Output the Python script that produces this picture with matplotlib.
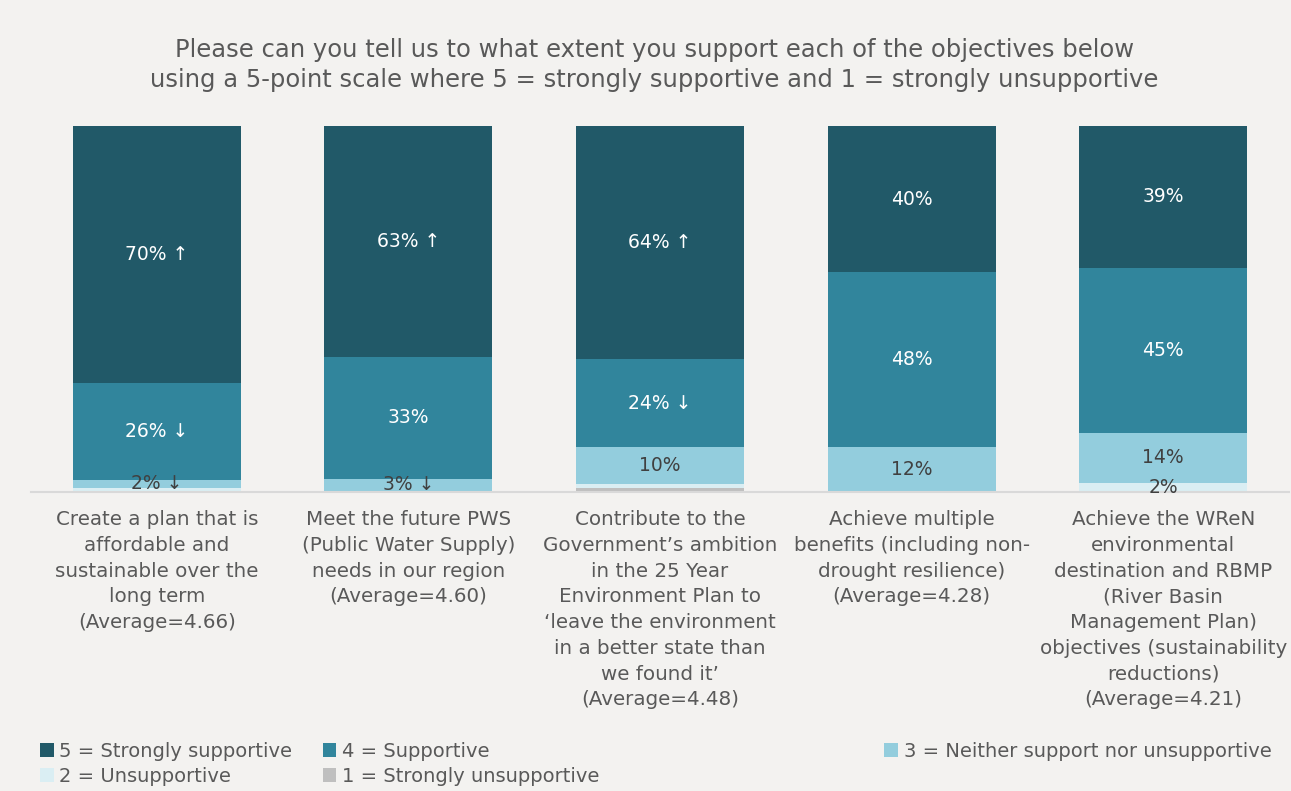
import matplotlib
matplotlib.use("Agg")
import matplotlib.pyplot as plt
from matplotlib.patches import Patch

plt.rcParams['font.family'] = ['DejaVu Sans']

categories = [
    "Create a plan that is\naffordable and\nsustainable over the\nlong term\n(Average=4.66)",
    "Meet the future PWS\n(Public Water Supply)\nneeds in our region\n(Average=4.60)",
    "Contribute to the\nGovernment\u2019s ambition\nin the 25 Year\nEnvironment Plan to\n\u2018leave the environment\nin a better state than\nwe found it\u2019\n(Average=4.48)",
    "Achieve multiple\nbenefits (including non-\ndrought resilience)\n(Average=4.28)",
    "Achieve the WReN\nenvironmental\ndestination and RBMP\n(River Basin\nManagement Plan)\nobjectives (sustainability\nreductions)\n(Average=4.21)",
]

# segment sizes (share of respondents, %)
strongly_unsupportive = [0.0, 0.0, 1.1, 0.0, 0.0]
unsupportive = [1.1, 0.3, 1.1, 0.0, 2.5]
neither = [2.2, 3.3, 10.1, 12.3, 13.7]
supportive = [26.5, 33.3, 24.0, 47.8, 45.1]
strongly_supportive = [70.2, 63.1, 63.7, 39.9, 38.8]

# printed labels
lab_5 = ["70% \u2191", "63% \u2191", "64% \u2191", "40%", "39%"]
lab_4 = ["26% \u2193", "33%", "24% \u2193", "48%", "45%"]
lab_3 = ["2% \u2193", "3% \u2193", "10%", "12%", "14%"]
lab_2 = ["", "", "", "", "2%"]

legend_names = ["5 = Strongly supportive", "4 = Supportive",
                "3 = Neither support nor unsupportive", "2 = Unsupportive",
                "1 = Strongly unsupportive"]

bg = "#f3f2f0"
c5, c4, c3, c2, c1 = "#215968", "#31859c", "#93cddd", "#daeef3", "#bfbfbf"
txt = "#595959"

fig = plt.figure(figsize=(12.91, 7.91), dpi=100, facecolor=bg)
ax = fig.add_axes([0.024, 0.378, 0.9745, 0.4627])
ax.set_facecolor(bg)

x = list(range(len(categories)))
w = 0.668
bottom = [0.0] * len(x)
segments = [
    (strongly_unsupportive, c1, None, None),
    (unsupportive, c2, lab_2, "#404040"),
    (neither, c3, lab_3, "#404040"),
    (supportive, c4, lab_4, "white"),
    (strongly_supportive, c5, lab_5, "white"),
]
for vals, col, labs, tc in segments:
    bars = ax.bar(x, vals, w, bottom=bottom, color=col, edgecolor="none")
    if labs is not None:
        for i, b in enumerate(bars):
            if labs[i]:
                ax.text(b.get_x() + b.get_width() / 2, bottom[i] + vals[i] / 2,
                        labs[i], ha="center", va="center", color=tc, fontsize=13.5)
    bottom = [bottom[i] + vals[i] for i in range(len(x))]

ax.set_xlim(-0.5, 4.5)
ax.set_ylim(0, 100)
ax.set_yticks([])
ax.set_xticks(x)
ax.set_xticklabels(categories, fontsize=14.3, color=txt, linespacing=1.45, va="top")
ax.tick_params(axis="x", length=0, pad=13)
for s in ["top", "right", "left"]:
    ax.spines[s].set_visible(False)
ax.spines["bottom"].set_color("#d9d9d9")
ax.spines["bottom"].set_linewidth(1.5)

fig.text(0.507, 0.918, "Please can you tell us to what extent you support each of the objectives below\n"
         "using a 5-point scale where 5 = strongly supportive and 1 = strongly unsupportive",
         ha="center", va="center", fontsize=17.5, color=txt, linespacing=1.3)

colors = [c5, c4, c3, c2, c1]
handles = [Patch(facecolor=c, edgecolor="none") for c in colors]
columns = [([0, 3], 0.031), ([1, 4], 0.250), ([2], 0.685)]
for idx, xpos in columns:
    fig.legend([handles[i] for i in idx], [legend_names[i] for i in idx],
               loc="upper left", bbox_to_anchor=(xpos, 0.062),
               frameon=False, fontsize=14, labelcolor=txt,
               handlelength=0.7, handleheight=0.7, handletextpad=0.3,
               labelspacing=0.3, borderaxespad=0, borderpad=0)

fig.savefig("out.png", dpi=100, facecolor=bg)
